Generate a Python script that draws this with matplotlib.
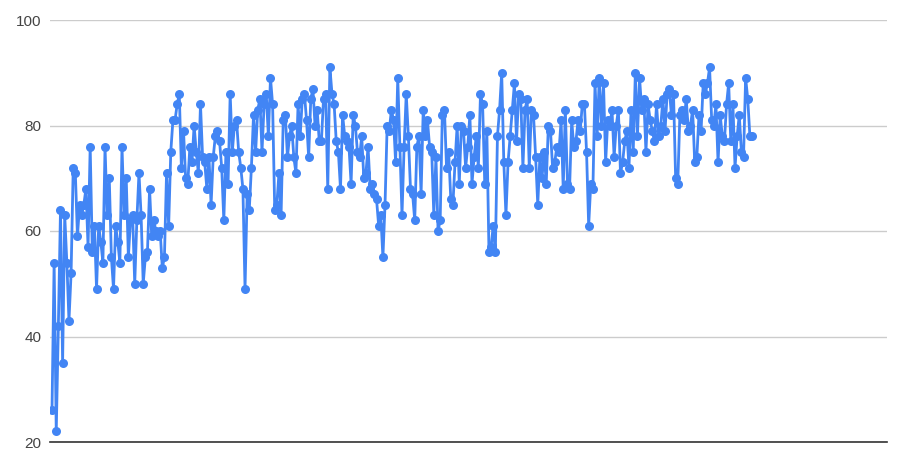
import numpy as np
import matplotlib
matplotlib.use("Agg")
import matplotlib.pyplot as plt

plt.rcParams['font.family'] = ['Liberation Sans', 'DejaVu Sans']

# values, left to right
scores = [
    26, 54, 22, 42, 64, 35, 63, 54, 43, 52, 72, 71, 59, 65, 63, 65, 68, 57, 76, 56,
    61, 49, 61, 58, 54, 76, 63, 70, 55, 49, 61, 58, 54, 76, 63, 70, 55, 62, 63, 50,
    62, 71, 63, 50, 55, 56, 68, 59, 62, 60, 59, 60, 53, 55, 71, 61,
    75, 81, 81, 84, 86, 72, 79, 70, 69, 76, 73, 80, 75, 71, 84, 74, 73, 68, 74, 65,
    74, 78, 79, 77, 72, 62, 75, 69, 86, 75, 80, 81, 75, 72, 68, 49, 67, 64, 72, 82,
    75, 83, 85, 75, 84, 86, 78, 89, 84, 64, 65, 71, 63, 81, 82, 74, 78, 80, 74, 71,
    84, 78, 85, 86, 81, 74, 85, 87, 80, 83, 77, 77, 85, 86, 68, 91, 86, 84, 77, 75,
    68, 82, 78, 77, 76, 69, 82, 80, 75, 74, 78, 70, 71, 76, 68, 69, 67, 66, 61, 63,
    55, 65, 80, 79, 83, 81, 73, 89, 76, 63, 76, 86, 78, 68, 67, 62, 76, 78, 67, 83,
    78, 81, 76, 75, 63, 74, 60, 62, 82, 83, 72, 75, 66, 65, 73, 80, 69, 80, 79, 72,
    76, 82, 69, 74, 78, 72, 86, 84, 69, 79, 56, 57, 61, 56, 78, 83, 90, 73, 63, 73,
    78, 83, 88, 77, 86, 85, 72, 83, 85, 72, 83, 82, 74, 65, 74, 70, 75, 69, 80, 79,
    72, 73, 76, 75, 81, 68, 83, 69, 68, 81, 76, 77, 81, 79, 84, 84, 75, 61, 69, 68,
    88, 78, 89, 80, 88, 73, 81, 80, 83, 74, 80, 83, 71, 73, 77, 79, 72, 83, 75, 90,
    78, 89, 83, 85, 75, 84, 81, 79, 77, 84, 78, 80, 85, 79, 86, 87, 82, 86, 70, 69,
    82, 83, 81, 85, 79, 80, 83, 73, 74, 82, 79, 88, 86, 88, 91, 81, 80, 84, 73, 82,
    78, 77, 84, 88, 77, 84, 72, 78, 82, 75, 74, 89, 85, 78, 78,
]
y_ticks = [20, 40, 60, 80, 100]

n = len(scores)
x = np.arange(n)

fig = plt.figure(figsize=(9, 4.66), dpi=100)
ax = fig.add_axes([50 / 900, 1 - 442 / 466, 837 / 900, 422 / 466])

ax.plot(x, scores, color='#4285F4', linewidth=2, marker='o', markersize=6.5,
        markeredgewidth=0, zorder=3)

# data covers ~700 px of the 837 px wide plot area
step = 700 / (n - 1)
ax.set_xlim(-2 / step, (n - 1) + 135 / step)
ax.set_ylim(20, 100)
ax.set_yticks(y_ticks)
ax.set_xticks([])
ax.tick_params(axis='y', length=0, labelsize=11, labelcolor='#444444', pad=6)
ax.grid(axis='y', color='#cccccc', linewidth=1)

for side in ['top', 'right', 'left']:
    ax.spines[side].set_visible(False)
ax.spines['bottom'].set_color('#333333')
ax.spines['bottom'].set_linewidth(1.2)
ax.spines['bottom'].set_zorder(4)

fig.savefig('out.png', dpi=100)
